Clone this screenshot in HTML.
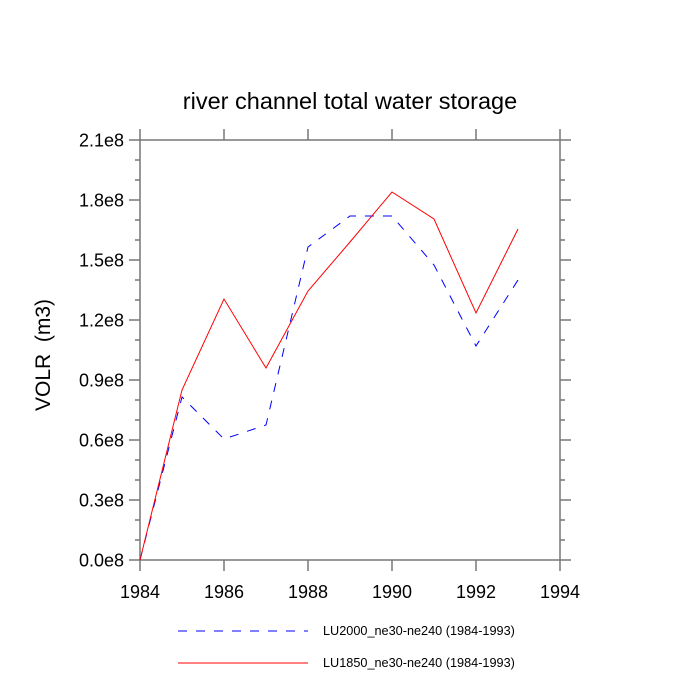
<!DOCTYPE html>
<html><head><meta charset="utf-8"><style>
body{margin:0;background:#fff}
svg{display:block;font-family:"Liberation Sans",sans-serif}
</style></head><body>
<svg id="chart" width="700" height="700" xmlns="http://www.w3.org/2000/svg">
<text x="350" y="109" font-size="23.5" text-anchor="middle">river channel total water storage</text>
<text transform="translate(50,355) rotate(-90)" font-size="21" text-anchor="middle" style="white-space:pre">VOLR  (m3)</text>
<g id="axes"></g>
<g id="series"></g>
<g>
<line x1="178" y1="631" x2="308" y2="631" stroke="#0000ff" stroke-width="1" stroke-dasharray="9,9"/>
<text x="323" y="635" font-size="12.7">LU2000_ne30-ne240 (1984-1993)</text>
<line x1="178" y1="663" x2="308" y2="663" stroke="#ff0000" stroke-width="1"/>
<text x="323" y="667" font-size="12.7">LU1850_ne30-ne240 (1984-1993)</text>
</g>
</svg>
<script>
const years=[1984,1985,1986,1987,1988,1989,1990,1991,1992,1993];
const lu1850=[0,0.85,1.305,0.96,1.345,1.59,1.84,1.705,1.235,1.655];
const lu2000=[0,0.815,0.605,0.675,1.565,1.72,1.72,1.475,1.07,1.40];
const xTicks=[1984,1986,1988,1990,1992,1994];
const yTicks=[0,0.3,0.6,0.9,1.2,1.5,1.8,2.1];
const yTickLabels=["0.0e8","0.3e8","0.6e8","0.9e8","1.2e8","1.5e8","1.8e8","2.1e8"];
const L=140,R=560,T=140,B=560;
const xS=v=>L+(v-1984)/10*(R-L);
const yS=v=>B-v/2.1*(B-T);
const NS="http://www.w3.org/2000/svg";
function mk(t,a,p){const e=document.createElementNS(NS,t);for(const k in a)e.setAttribute(k,a[k]);p.appendChild(e);return e;}
const ax=document.getElementById('axes');
const fr=mk('rect',{x:L,y:T,width:R-L,height:B-T,fill:'none',stroke:'#777','stroke-width':1.5},ax);


const gs='#777';
for(let v=0;v<=2.1001;v+=0.1){const y=yS(v);const maj=Math.abs(v*10/3-Math.round(v*10/3))<1e-6;const len=maj?11:5;
 mk('line',{x1:L-len,y1:y,x2:L,y2:y,stroke:gs,'stroke-width':1.5},ax);mk('line',{x1:R,y1:y,x2:R+len,y2:y,stroke:gs,'stroke-width':1.5},ax);}
yTicks.forEach((v,i)=>{const t=mk('text',{x:L-16,y:yS(v)+6.5,'font-size':18,'text-anchor':'end'},ax);t.textContent=yTickLabels[i];
 
 });
xTicks.forEach(v=>{const x=xS(v);mk('line',{x1:x,y1:B,x2:x,y2:B+11,stroke:gs,'stroke-width':1.5},ax);mk('line',{x1:x,y1:T-11,x2:x,y2:T,stroke:gs,'stroke-width':1.5},ax);
 const t=mk('text',{x:x,y:B+38,'font-size':18,'text-anchor':'middle'},ax);t.textContent=v;
 
 });
const sg=document.getElementById('series');
const p2=mk('polyline',{points:years.map((y,i)=>xS(y)+','+yS(lu2000[i])).join(' '),fill:'none',stroke:'#0000ff','stroke-width':1,'stroke-dasharray':'9,9'},sg);


const p1=mk('polyline',{points:years.map((y,i)=>xS(y)+','+yS(lu1850[i])).join(' '),fill:'none',stroke:'#ff0000','stroke-width':1},sg);


</script>
</body></html>
